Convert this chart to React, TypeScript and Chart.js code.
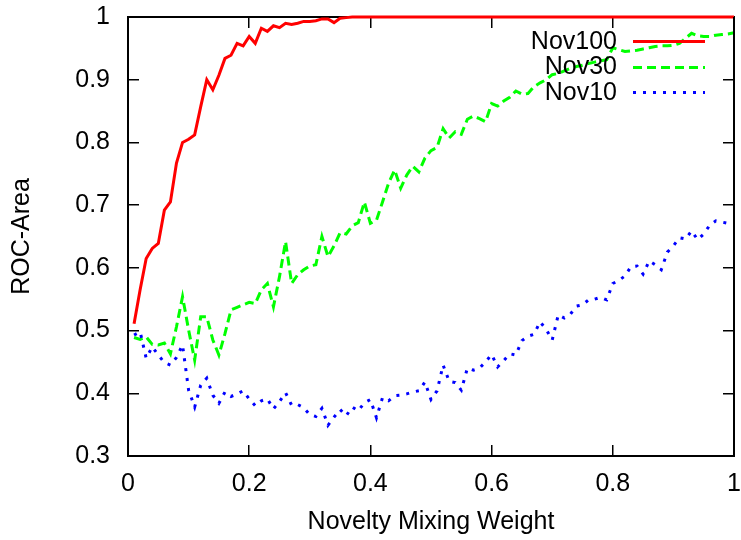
import React, { useEffect, useRef } from "react";
import { Chart, registerables } from "chart.js";

Chart.register(...registerables);

const xValues = [
  0.01, 0.02, 0.03, 0.04, 0.05, 0.06, 0.07, 0.08, 0.09, 0.1,
  0.11, 0.12, 0.13, 0.14, 0.15, 0.16, 0.17, 0.18, 0.19, 0.2,
  0.21, 0.22, 0.23, 0.24, 0.25, 0.26, 0.27, 0.28, 0.29, 0.3,
  0.31, 0.32, 0.33, 0.34, 0.35, 0.36, 0.37, 0.38, 0.39, 0.4,
  0.41, 0.42, 0.43, 0.44, 0.45, 0.46, 0.47, 0.48, 0.49, 0.5,
  0.51, 0.52, 0.53, 0.54, 0.55, 0.56, 0.57, 0.58, 0.59, 0.6,
  0.61, 0.62, 0.63, 0.64, 0.65, 0.66, 0.67, 0.68, 0.69, 0.7,
  0.71, 0.72, 0.73, 0.74, 0.75, 0.76, 0.77, 0.78, 0.79, 0.8,
  0.81, 0.82, 0.83, 0.84, 0.85, 0.86, 0.87, 0.88, 0.89, 0.9,
  0.91, 0.92, 0.93, 0.94, 0.95, 0.96, 0.97, 0.98, 0.99, 1.0,
];

const nov100 = [
  0.511, 0.565, 0.615, 0.631, 0.639, 0.692, 0.705, 0.767, 0.8, 0.805,
  0.812, 0.857, 0.9, 0.884, 0.907, 0.934, 0.939, 0.958, 0.954, 0.969,
  0.958, 0.982, 0.977, 0.986, 0.983, 0.99, 0.988, 0.99, 0.993, 0.993,
  0.994, 0.997, 0.997, 0.991, 0.998, 0.999, 1, 1, 1, 1,
  1, 1, 1, 1, 1, 1, 1, 1, 1, 1,
  1, 1, 1, 1, 1, 1, 1, 1, 1, 1,
  1, 1, 1, 1, 1, 1, 1, 1, 1, 1,
  1, 1, 1, 1, 1, 1, 1, 1, 1, 1,
  1, 1, 1, 1, 1, 1, 1, 1, 1, 1,
  1, 1, 1, 1, 1, 1, 1, 1, 1, 1,
];

const nov30 = [
  0.489, 0.486, 0.49, 0.478, 0.477, 0.48, 0.463, 0.506, 0.554, 0.501,
  0.453, 0.522, 0.522, 0.485, 0.461, 0.495, 0.533, 0.537, 0.541, 0.545,
  0.543, 0.565, 0.575, 0.538, 0.586, 0.642, 0.575, 0.589, 0.597, 0.603,
  0.605, 0.65, 0.618, 0.635, 0.656, 0.654, 0.667, 0.672, 0.705, 0.671,
  0.676, 0.705, 0.735, 0.756, 0.727, 0.748, 0.762, 0.753, 0.775, 0.787,
  0.792, 0.822, 0.807, 0.817, 0.813, 0.837, 0.842, 0.838, 0.833, 0.862,
  0.858, 0.866, 0.872, 0.882, 0.877, 0.878, 0.889, 0.895, 0.9, 0.908,
  0.91, 0.914, 0.918, 0.921, 0.923, 0.926, 0.928, 0.93, 0.932, 0.951,
  0.948, 0.945, 0.946, 0.947, 0.949, 0.951, 0.953, 0.954, 0.954, 0.955,
  0.958, 0.966, 0.974, 0.97, 0.969, 0.969, 0.971, 0.972, 0.973, 0.975,
];

const nov10 = [
  0.493, 0.498, 0.456, 0.474, 0.461, 0.449, 0.445, 0.457, 0.477, 0.405,
  0.378, 0.413, 0.424, 0.397, 0.384, 0.402, 0.395, 0.399, 0.404, 0.391,
  0.38, 0.388, 0.391, 0.375, 0.387, 0.401, 0.381, 0.382, 0.377, 0.366,
  0.363, 0.376, 0.349, 0.362, 0.374, 0.364, 0.378, 0.372, 0.385, 0.39,
  0.361, 0.393, 0.388, 0.396, 0.397, 0.399, 0.402, 0.404, 0.418, 0.39,
  0.404, 0.445, 0.419, 0.417, 0.405, 0.44, 0.437, 0.44, 0.45, 0.462,
  0.442, 0.452, 0.463, 0.461, 0.484, 0.491, 0.494, 0.514, 0.502, 0.485,
  0.525, 0.52, 0.526, 0.539, 0.541, 0.549, 0.55, 0.553, 0.549, 0.575,
  0.58, 0.587, 0.602, 0.603, 0.59, 0.611, 0.605, 0.597, 0.625, 0.635,
  0.648, 0.646, 0.659, 0.645, 0.654, 0.668, 0.675, 0.673, 0.671, 0.672,
];

const seriesLabels = ["Nov100", "Nov30", "Nov10"];
const seriesColors = ["#ff0000", "#00ff00", "#0000ff"];

const xTickValues = [0, 0.2, 0.4, 0.6, 0.8, 1];
const xTickLabels = ["0", "0.2", "0.4", "0.6", "0.8", "1"];
const yTickValues = [0.3, 0.4, 0.5, 0.6, 0.7, 0.8, 0.9, 1];
const yTickLabels = ["0.3", "0.4", "0.5", "0.6", "0.7", "0.8", "0.9", "1"];

const xTitle = "Novelty Mixing Weight";
const yTitle = "ROC-Area";

const FONT = "'Liberation Sans', Arial, Helvetica, sans-serif";
const FS = 25;
const TICK_IN = -11;
const FRAME_COLOR = "#000000";

const overlayPlugin = {
  id: "gnuplotOverlay",
  afterDraw(chart: any) {
    const { ctx, chartArea } = chart;
    const { left, right, top, bottom } = chartArea;
    ctx.save();
    ctx.setLineDash([]);
    ctx.lineWidth = 2;
    ctx.strokeStyle = FRAME_COLOR;
    ctx.beginPath();
    ctx.moveTo(left, bottom);
    ctx.lineTo(left, top);
    ctx.moveTo(right, top);
    ctx.lineTo(right, bottom);
    ctx.lineTo(left, bottom);
    ctx.stroke();
    ctx.restore();
  },
  afterDatasetsDraw(chart: any) {
    const { ctx, chartArea } = chart;
    const textRight = chartArea.right - 117;
    const lineStart = chartArea.right - 101;
    const lineEnd = chartArea.right - 29;
    ctx.save();
    ctx.font = `${FS}px ${FONT}`;
    ctx.textAlign = "right";
    ctx.textBaseline = "middle";
    chart.data.datasets.forEach((ds: any, i: number) => {
      const y = chartArea.top + 24 + i * 25.5;
      ctx.fillStyle = "#000";
      ctx.setLineDash([]);
      ctx.fillText(ds.label, textRight, y + 1);
      ctx.strokeStyle = ds.borderColor;
      ctx.lineWidth = ds.borderWidth;
      ctx.lineCap = "butt";
      ctx.setLineDash(ds.borderDash || []);
      ctx.beginPath();
      ctx.moveTo(lineStart, Math.round(y) + 0.5);
      ctx.lineTo(lineEnd, Math.round(y) + 0.5);
      ctx.stroke();
    });
    ctx.restore();
  },
};

const gridOpts = {
  display: true,
  drawOnChartArea: false,
  drawTicks: true,
  tickLength: TICK_IN,
  color: FRAME_COLOR,
  lineWidth: 1.5,
};
const borderOpts = { display: true, color: FRAME_COLOR, width: 2 };

export default function App() {
  const canvasRef = useRef<HTMLCanvasElement | null>(null);

  useEffect(() => {
    if (!canvasRef.current) return;
    const seriesData = [nov100, nov30, nov10];
    const dashes = [[], [9, 5], [3, 7]];
    const setXTicks = (scale: any) => {
      scale.ticks = xTickValues.map((v) => ({ value: v }));
    };
    const setYTicks = (scale: any) => {
      scale.ticks = yTickValues.map((v) => ({ value: v }));
    };
    const chart = new Chart(canvasRef.current, {
      type: "line",
      data: {
        datasets: seriesData.map((vals, i) => ({
          label: seriesLabels[i],
          data: xValues.map((x, j) => ({ x, y: vals[j] })),
          borderColor: seriesColors[i],
          backgroundColor: seriesColors[i],
          borderWidth: 3,
          borderDash: dashes[i],
          borderCapStyle: "butt",
          borderJoinStyle: "miter",
          pointRadius: 0,
          tension: 0,
          fill: false,
          clip: 4,
          order: 2 - i,
          xAxisID: "x",
          yAxisID: "y",
        })),
      },
      options: {
        responsive: false,
        animation: false,
        events: [],
        layout: { padding: 0 },
        plugins: {
          legend: { display: false },
          tooltip: { enabled: false },
        },
        scales: {
          x: {
            type: "linear",
            axis: "x",
            position: "bottom",
            min: 0,
            max: 1,
            afterBuildTicks: setXTicks,
            afterFit: (scale: any) => {
              scale.height = 84;
              scale.paddingLeft = 0;
              scale.paddingRight = 7;
            },
            grid: gridOpts,
            border: borderOpts,
            ticks: {
              padding: 13 - TICK_IN,
              color: "#000",
              font: { family: FONT, size: FS, lineHeight: 1.2 },
              maxRotation: 0,
              callback: (v: any) => {
                const idx = xTickValues.findIndex((t) => Math.abs(t - v) < 1e-9);
                return idx >= 0 ? xTickLabels[idx] : "";
              },
            },
            title: {
              display: true,
              text: xTitle,
              color: "#000",
              font: { family: FONT, size: FS, lineHeight: 1.2 },
              padding: { top: 0, bottom: 3 },
            },
          },
          x2: {
            type: "linear",
            axis: "x",
            position: "top",
            min: 0,
            max: 1,
            afterBuildTicks: setXTicks,
            afterFit: (scale: any) => {
              scale.height = 0;
              scale.paddingLeft = 0;
              scale.paddingRight = 0;
            },
            grid: gridOpts,
            border: borderOpts,
            ticks: { display: false },
          },
          y: {
            type: "linear",
            axis: "y",
            position: "left",
            min: 0.3,
            max: 1,
            afterBuildTicks: setYTicks,
            afterFit: (scale: any) => {
              scale.width = 128;
              scale.paddingTop = 17;
              scale.paddingBottom = 0;
            },
            grid: gridOpts,
            border: borderOpts,
            ticks: {
              padding: 18 - TICK_IN,
              color: "#000",
              font: { family: FONT, size: FS, lineHeight: 1.2 },
              callback: (v: any) => {
                const idx = yTickValues.findIndex((t) => Math.abs(t - v) < 1e-9);
                return idx >= 0 ? yTickLabels[idx] : "";
              },
            },
            title: {
              display: true,
              text: yTitle,
              color: "#000",
              font: { family: FONT, size: FS, lineHeight: 1.2 },
              padding: { top: 7, bottom: 0 },
            },
          },
          y2: {
            type: "linear",
            axis: "y",
            position: "right",
            min: 0.3,
            max: 1,
            afterBuildTicks: setYTicks,
            afterFit: (scale: any) => {
              scale.width = 0;
              scale.paddingTop = 0;
              scale.paddingBottom = 0;
            },
            grid: gridOpts,
            border: borderOpts,
            ticks: { display: false },
          },
        },
      },
      plugins: [overlayPlugin],
    } as any);
    return () => chart.destroy();
  }, []);

  return (
    <div style={{ position: "fixed", left: 0, top: 0, width: 741, height: 540, background: "#fff" }}>
      <canvas ref={canvasRef} width={741} height={540} style={{ width: 741, height: 540, display: "block" }} />
    </div>
  );
}
